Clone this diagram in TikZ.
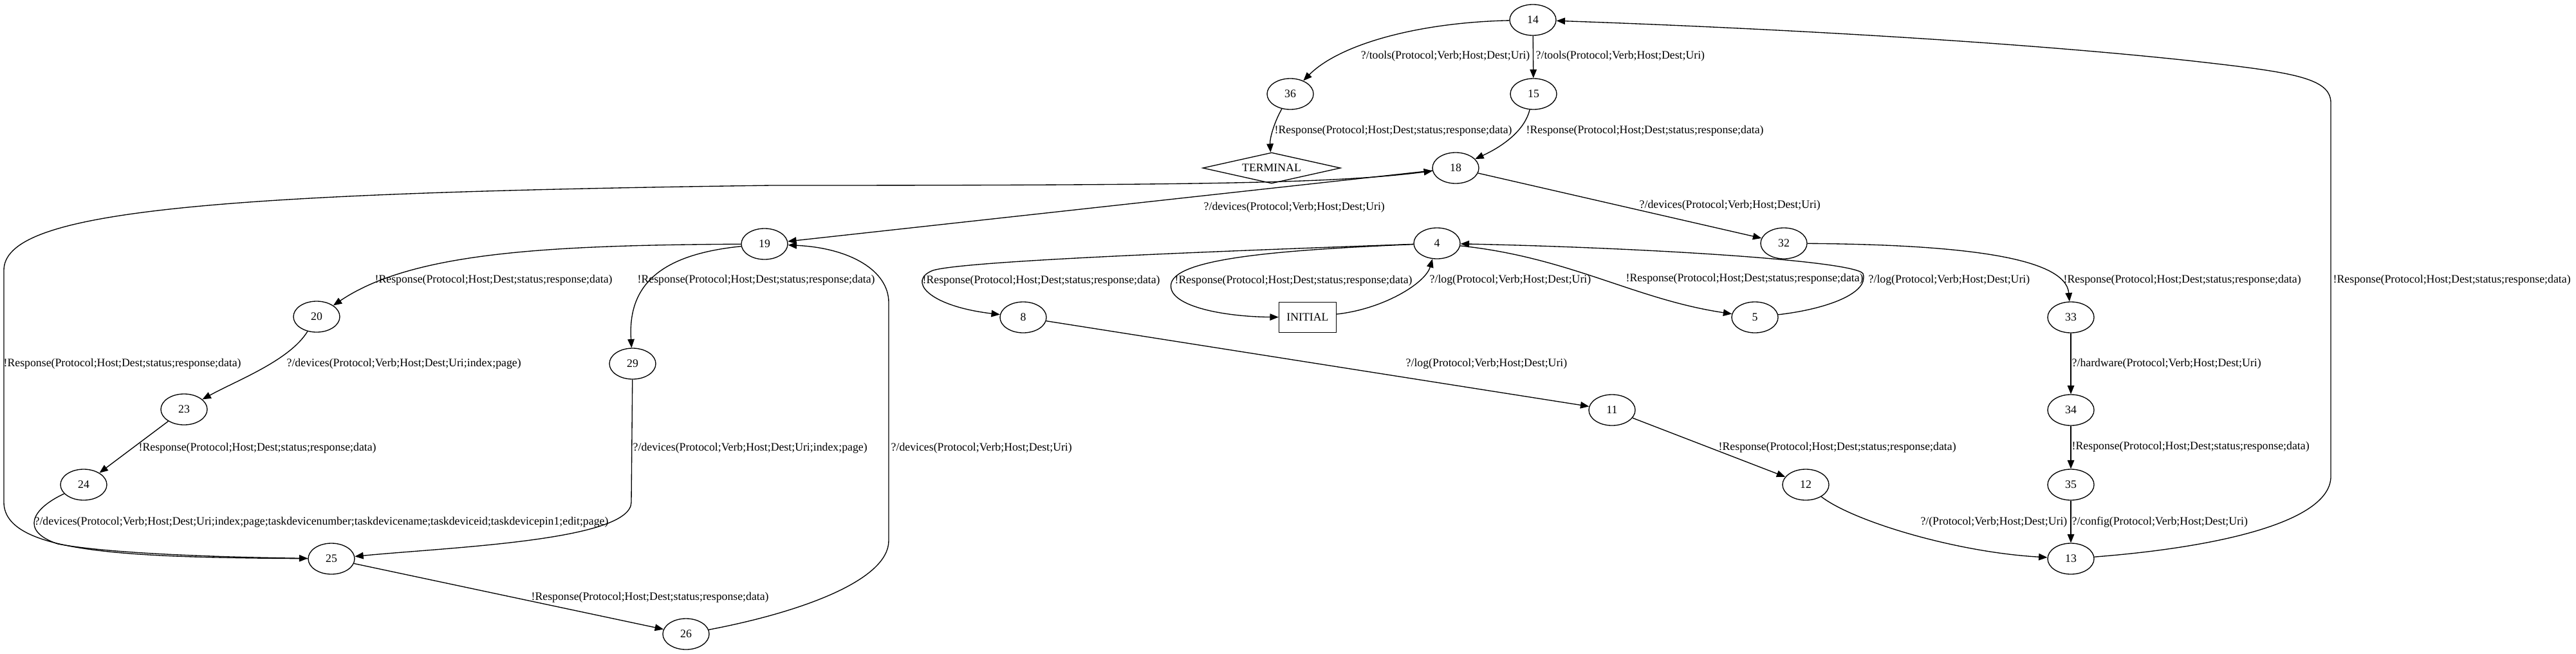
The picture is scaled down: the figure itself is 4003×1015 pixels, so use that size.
\documentclass[tikz,border=0pt]{standalone}
\usepackage{fontspec}
\setmainfont{Liberation Serif}
\usetikzlibrary{arrows.meta,shapes.geometric}
\newcommand{\respmsg}{!Response(Protocol;Host;Dest;status;response;data)}
\newcommand{\devmsg}{?/devices(Protocol;Verb;Host;Dest;Uri)}
\newcommand{\pagemsg}{?/devices(Protocol;Verb;Host;Dest;Uri;index;page)}
\newcommand{\logmsg}{?/log(Protocol;Verb;Host;Dest;Uri)}
\newcommand{\toolmsg}{?/tools(Protocol;Verb;Host;Dest;Uri)}

\begin{document}
\begin{tikzpicture}[x=0.01cm,y=-0.01cm,>={Triangle[length=3.8pt,width=3pt]},line width=0.38pt,
  every node/.style={font=\fontsize{5.05}{6}\selectfont},
  state/.style={draw,ellipse,inner sep=0pt,minimum width=0.72cm,minimum height=0.48cm},
  startstate/.style={draw,rectangle,inner sep=0pt,minimum width=0.89cm,minimum height=0.47cm},
  endstate/.style={draw,diamond,aspect=4.5,inner sep=0pt,minimum width=2.14cm,minimum height=0.48cm},
  lbl/.style={inner sep=0pt,anchor=west}]
  \useasboundingbox (0,0) rectangle (4003,1015);
  % Zustaende
  \node[state] (s14) at (2382,31) {14};
  \node[state] (s36) at (2005,146) {36};
  \node[state] (s15) at (2383,146) {15};
  \node[endstate] (sT) at (1976,261) {TERMINAL};
  \node[state] (s18) at (2262,261) {18};
  \node[state] (s19) at (1188,379) {19};
  \node[state] (s4) at (2233,378) {4};
  \node[state] (s32) at (2772,378) {32};
  \node[state] (s20) at (492,492) {20};
  \node[state] (s8) at (1590,493) {8};
  \node[startstate] (sI) at (2032,493) {INITIAL};
  \node[state] (s5) at (2727,493) {5};
  \node[state] (s33) at (3218,493) {33};
  \node[state] (s29) at (983,565) {29};
  \node[state] (s23) at (286,636) {23};
  \node[state] (s11) at (2505,637) {11};
  \node[state] (s34) at (3218,637) {34};
  \node[state] (s24) at (130,753) {24};
  \node[state] (s12) at (2806,753) {12};
  \node[state] (s35) at (3218,753) {35};
  \node[state] (s25) at (515,868) {25};
  \node[state] (s13) at (3218,868) {13};
  \node[state] (s26) at (1066,985) {26};
  % Uebergaenge
  \draw[->] (s14) .. controls (2200,35) and (2080,70) .. (s36);
  \draw[->] (s14) -- (s15);
  \draw[->] (s36) .. controls (1980,190) and (1973,215) .. (sT);
  \draw[->] (s15) .. controls (2370,200) and (2340,225) .. (s18);
  \draw[->] (s18) -- (s32);
  \draw[->] (s18) -- (s19);
  \draw[->] (s25) .. controls (200,866) and (6,860) .. (6,780) -- (6,420)
    .. controls (6,330) and (300,300) .. (1200,288)
    .. controls (1900,288) and (2080,284) .. (s18);
  \draw[->] (s19) .. controls (850,381) and (640,392) .. (s20);
  \draw[->] (s19) .. controls (1030,395) and (975,440) .. (s29);
  \draw[->] (s20) .. controls (450,560) and (370,590) .. (s23);
  \draw[->] (s23) -- (s24);
  \draw[->] (s24) .. controls (50,790) and (30,825) .. (90,845)
    .. controls (180,862) and (380,866) .. (s25);
  \draw[->] (s29) -- (981,780) .. controls (981,840) and (700,850) .. (s25);
  \draw[->] (s25) -- (s26);
  \draw[->] (s26) .. controls (1250,950) and (1381,900) .. (1381,840) -- (1381,470)
    .. controls (1381,420) and (1320,385) .. (s19);
  \draw[->] (s4) .. controls (1900,390) and (1500,405) .. (1450,420)
    .. controls (1410,435) and (1440,475) .. (s8);
  \draw[->] (s4) .. controls (2000,388) and (1830,400) .. (1820,440)
    .. controls (1812,475) and (1900,492) .. (sI);
  \draw[->] (sI) .. controls (2150,480) and (2215,440) .. (s4);
  \draw[->] (s4) .. controls (2440,400) and (2540,465) .. (s5);
  \draw[->] (s5) .. controls (2840,480) and (2905,455) .. (2895,425)
    .. controls (2880,405) and (2560,385) .. (s4);
  \draw[->] (s32) .. controls (3050,380) and (3210,400) .. (s33);
  \draw[->] (s33) -- (s34);
  \draw[->] (s34) -- (s35);
  \draw[->] (s35) -- (s13);
  \draw[->] (s8) -- (s11);
  \draw[->] (s11) -- (s12);
  \draw[->] (s12) .. controls (2880,810) and (3040,858) .. (s13);
  \draw[->] (s13) .. controls (3450,850) and (3622,810) .. (3622,740) -- (3622,160)
    .. controls (3622,120) and (3560,112) .. (3400,94)
    .. controls (3100,62) and (2700,42) .. (s14);
  % Beschriftungen
  \node[lbl,anchor=east] (l1) at (2378,87) {\toolmsg};
  \node[lbl] (l2) at (2386,87) {\toolmsg};
  \node[lbl] (l3) at (1980,203) {\respmsg};
  \node[lbl] (l4) at (2371,203) {\respmsg};
  \node[lbl] (l5) at (2547,319) {\devmsg};
  \node[lbl] (l6) at (1870,322) {\devmsg};
  \node[lbl] (l7) at (5,565) {\respmsg};
  \node[lbl] (l8) at (582,435) {\respmsg};
  \node[lbl] (l9) at (990,435) {\respmsg};
  \node[lbl] (l10) at (445,565) {\pagemsg};
  \node[lbl] (l11) at (215,696) {\respmsg};
  \node[lbl] (l12) at (53,811) {?/devices(Protocol;Verb;Host;Dest;Uri;index;page;taskdevicenumber;taskdevicename;taskdeviceid;taskdevicepin1;edit;page)};
  \node[lbl] (l13) at (983,696) {\pagemsg};
  \node[lbl] (l14) at (825,928) {\respmsg};
  \node[lbl] (l15) at (1384,696) {\devmsg};
  \node[lbl] (l16) at (1433,436) {\respmsg};
  \node[lbl] (l17) at (1825,436) {\respmsg};
  \node[lbl] (l18) at (2221,435) {\logmsg};
  \node[lbl] (l19) at (2526,433) {\respmsg};
  \node[lbl] (l20) at (2903,435) {\logmsg};
  \node[lbl] (l21) at (3206,435) {\respmsg};
  \node[lbl] (l22) at (3219,565) {?/hardware(Protocol;Verb;Host;Dest;Uri)};
  \node[lbl] (l23) at (3219,694) {\respmsg};
  \node[lbl] (l24) at (3219,811) {?/config(Protocol;Verb;Host;Dest;Uri)};
  \node[lbl,anchor=east] (l25) at (3213,811) {?/(Protocol;Verb;Host;Dest;Uri)};
  \node[lbl] (l26) at (2670,695) {\respmsg};
  \node[lbl] (l27) at (2184,565) {\logmsg};
  \node[lbl] (l28) at (3625,435) {\respmsg};
\end{tikzpicture}
\end{document}
